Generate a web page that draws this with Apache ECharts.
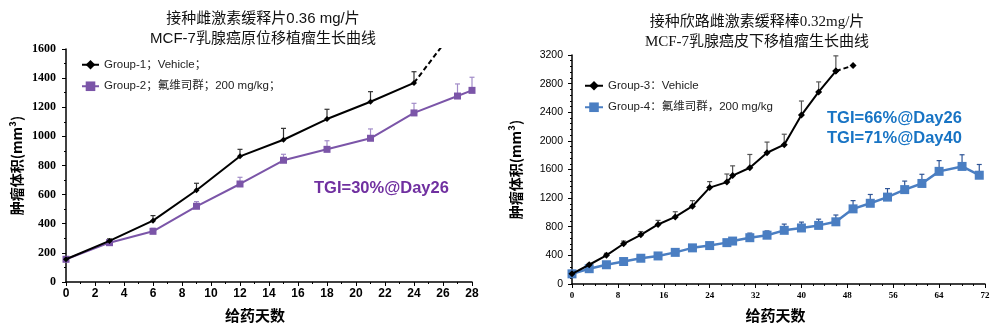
<!DOCTYPE html>
<html>
<head>
<meta charset="utf-8">
<script src="https://cdn.jsdelivr.net/npm/echarts@6/dist/echarts.min.js"></script>
<style>
  html, body { margin: 0; padding: 0; background: #fff; }
  #chart { width: 1000px; height: 328px; }
</style>
</head>
<body>
<div id="chart"></div>
<script>
// ---- Orthotopic model (left panel) ----
const leftTitle = ['接种雌激素缓释片0.36 mg/片', 'MCF-7乳腺癌原位移植瘤生长曲线'];
const leftXTicks = { min: 0, max: 28, interval: 2 };
const leftYTicks = { min: 0, max: 1600, interval: 200 };
const g1Name = 'Group-1；Vehicle；';
const g1Days = [0, 3, 6, 9, 12, 15, 18, 21, 24];
const g1Vol  = [156, 282, 421, 630, 863, 977, 1119, 1238, 1367];
const g1Err  = [0, 14, 35, 48, 48, 78, 67, 69, 77];
const g1TailDays = [24, 27];
const g1TailVol  = [1367, 1760];
const g2Name = 'Group-2；氟维司群；200 mg/kg；';
const g2Days = [0, 3, 6, 9, 12, 15, 18, 21, 24, 27, 28];
const g2Vol  = [156, 270, 348, 520, 673, 836, 911, 987, 1161, 1277, 1316];
const g2Err  = [0, 10, 21, 32, 46, 41, 59, 64, 66, 83, 90];
const leftNote = 'TGI=30%@Day26';

// ---- Subcutaneous model (right panel) ----
const rightTitle = ['接种欣路雌激素缓释棒0.32mg/片', 'MCF-7乳腺癌皮下移植瘤生长曲线'];
const rightXTicks = { min: 0, max: 72, interval: 8 };
const rightYTicks = { min: 0, max: 3200, interval: 400 };
const g3Name = 'Group-3：Vehicle';
const g3Days = [0, 3, 6, 9, 12, 15, 18, 21, 24, 27, 28, 31, 34, 37, 40, 43, 46];
const g3Vol  = [142, 269, 401, 562, 687, 832, 937, 1087, 1347, 1424, 1515, 1624, 1834, 1947, 2361, 2684, 2975];
const g3Err  = [0, 18, 28, 38, 46, 57, 73, 78, 84, 113, 136, 186, 149, 146, 196, 140, 213];
const g3TailDays = [46, 49];
const g3TailVol  = [2975, 3052];
const g4Name = 'Group-4：氟维司群，200 mg/kg';
const g4Days = [0, 3, 6, 9, 12, 15, 18, 21, 24, 27, 28, 31, 34, 37, 40, 43, 46, 49, 52, 55, 58, 61, 64, 68, 71];
const g4Vol  = [142, 214, 269, 314, 360, 392, 442, 505, 537, 578, 600, 647, 682, 750, 783, 819, 869, 1050, 1128, 1214, 1319, 1405, 1574, 1643, 1520];
const g4Err  = [0, 10, 14, 18, 22, 24, 28, 32, 34, 30, 40, 64, 60, 87, 82, 87, 95, 115, 123, 119, 119, 128, 150, 163, 150];
const rightNotes = ['TGI=66%@Day26', 'TGI=71%@Day40'];

const yName = '肿瘤体积(mm³)';
const xName = '给药天数';

const pairs = (xs, ys) => xs.map((x, i) => [x, ys[i]]);
const triples = (xs, ys, es) => xs.map((x, i) => [x, ys[i], es[i]]).filter(d => d[2] > 0);
const plain = (v) => String(v);

function errorBars(idx, data, color, cap) {
  return {
    type: 'custom',
    xAxisIndex: idx, yAxisIndex: idx,
    data: data,
    z: 1,
    silent: true,
    encode: { x: 0, y: 1 },
    renderItem(params, api) {
      const x = api.value(0), y = api.value(1), e = api.value(2);
      const p0 = api.coord([x, y]);
      const p1 = api.coord([x, y + e]);
      const st = { stroke: color, lineWidth: 1.2 };
      return {
        type: 'group',
        children: [
          { type: 'line', shape: { x1: p0[0], y1: p0[1], x2: p1[0], y2: p1[1] }, style: st },
          { type: 'line', shape: { x1: p1[0] - cap, y1: p1[1], x2: p1[0] + cap, y2: p1[1] }, style: st }
        ]
      };
    }
  };
}

const axisLine = { show: true, lineStyle: { color: '#000', width: 1.5 } };
const titleFont = (family) => ({ fontSize: 15, fontWeight: 'normal', color: '#111', fontFamily: family, lineHeight: 20 });

const chart = echarts.init(document.getElementById('chart'), null, { renderer: 'canvas' });
chart.setOption({
  animation: false,
  backgroundColor: '#fff',
  title: [
    { text: leftTitle.join('\n'), left: 258, top: 4, textAlign: 'center', textStyle: titleFont('"Liberation Sans", "Noto Sans CJK SC", sans-serif') },
    { text: rightTitle.join('\n'), left: 752, top: 7, textAlign: 'center', textStyle: titleFont('"Liberation Serif", "Noto Sans CJK SC", serif') }
  ],
  grid: [
    { left: 66, top: 49, width: 406, height: 233 },
    { left: 572, top: 55, width: 413, height: 235 }
  ],
  legend: [
    {
      data: [g1Name, g2Name], orient: 'vertical', left: 76, top: 54,
      itemWidth: 17, itemHeight: 12, itemGap: 10,
      textStyle: { fontSize: 11.5, color: '#222', fontFamily: '"Liberation Sans", "Noto Sans CJK SC", sans-serif' }
    },
    {
      data: [g3Name, g4Name], orient: 'vertical', left: 579, top: 75,
      itemWidth: 18, itemHeight: 12, itemGap: 10,
      textStyle: { fontSize: 11.5, color: '#222', fontFamily: '"Liberation Sans", "Noto Sans CJK SC", sans-serif' }
    }
  ],
  xAxis: [
    {
      gridIndex: 0, type: 'value', ...leftXTicks,
      axisLine, axisTick: { show: true, length: 4, lineStyle: { color: '#000' } },
      minorTick: { show: true, splitNumber: 2, length: 2, lineStyle: { color: '#000' } },
      splitLine: { show: false },
      axisLabel: { fontSize: 12, fontWeight: 'bold', color: '#000', margin: 6, formatter: plain, fontFamily: '"Liberation Sans", sans-serif' },
      name: xName, nameLocation: 'middle', nameGap: 26,
      nameTextStyle: { fontSize: 15, fontWeight: 'bold', color: '#000', padding: [0, 28, 0, 0], fontFamily: '"Noto Sans CJK SC", sans-serif' }
    },
    {
      gridIndex: 1, type: 'value', ...rightXTicks,
      axisLine, axisTick: { show: true, length: 4, lineStyle: { color: '#000' } },
      minorTick: { show: true, splitNumber: 4, length: 2, lineStyle: { color: '#000' } },
      splitLine: { show: false },
      axisLabel: { fontSize: 9, fontWeight: 'bold', color: '#000', margin: 7, formatter: plain, fontFamily: '"Liberation Serif", serif' },
      name: xName, nameLocation: 'middle', nameGap: 24,
      nameTextStyle: { fontSize: 15, fontWeight: 'bold', color: '#000', padding: [0, 6, 0, 0], fontFamily: '"Noto Sans CJK SC", sans-serif' }
    }
  ],
  yAxis: [
    {
      gridIndex: 0, type: 'value', ...leftYTicks,
      axisLine, axisTick: { show: true, length: 4, lineStyle: { color: '#000' } },
      minorTick: { show: true, splitNumber: 2, length: 2, lineStyle: { color: '#000' } },
      splitLine: { show: false },
      axisLabel: { fontSize: 12, fontWeight: 'bold', color: '#000', margin: 10, formatter: plain, fontFamily: '"Liberation Serif", serif' },
      name: yName, nameLocation: 'middle', nameGap: 42, nameRotate: 90,
      nameTextStyle: { fontSize: 14, fontWeight: 'bold', color: '#000', fontFamily: '"Noto Sans CJK SC", sans-serif' }
    },
    {
      gridIndex: 1, type: 'value', ...rightYTicks,
      axisLine, axisTick: { show: true, length: 4, lineStyle: { color: '#000' } },
      minorTick: { show: true, splitNumber: 5, length: 2, lineStyle: { color: '#000' } },
      splitLine: { show: false },
      axisLabel: { fontSize: 10.5, color: '#000', margin: 9, formatter: plain, fontFamily: '"Liberation Sans", sans-serif' },
      name: yName, nameLocation: 'middle', nameGap: 49, nameRotate: 90,
      nameTextStyle: { fontSize: 14, fontWeight: 'bold', color: '#000', fontFamily: '"Noto Sans CJK SC", sans-serif' }
    }
  ],
  graphic: [
    { type: 'text', left: 314, top: 180, style: { text: leftNote, fontSize: 16.5, fontWeight: 'bold', fill: '#7030A0', fontFamily: '"Liberation Sans", sans-serif' } },
    { type: 'text', left: 827, top: 108, style: { text: rightNotes.join('\n'), fontSize: 16.5, lineHeight: 20, fontWeight: 'bold', fill: '#1874C4', fontFamily: '"Liberation Sans", sans-serif' } }
  ],
  series: [
    errorBars(0, triples(g1Days, g1Vol, g1Err), '#333333', 2.5),
    errorBars(0, triples(g2Days, g2Vol, g2Err), '#A28CC8', 2.5),
    {
      name: g1Name, type: 'line', xAxisIndex: 0, yAxisIndex: 0, z: 3,
      data: pairs(g1Days, g1Vol), symbol: 'diamond', symbolSize: 6,
      lineStyle: { color: '#000', width: 2 }, itemStyle: { color: '#000' }
    },
    {
      name: 'g1-tail', type: 'line', xAxisIndex: 0, yAxisIndex: 0, z: 3, clip: true,
      data: pairs(g1TailDays, g1TailVol), symbol: 'none',
      lineStyle: { color: '#000', width: 2, type: [5, 3] }
    },
    {
      name: g2Name, type: 'line', xAxisIndex: 0, yAxisIndex: 0, z: 2,
      data: pairs(g2Days, g2Vol), symbol: 'rect', symbolSize: 7,
      lineStyle: { color: '#7B55A8', width: 2 }, itemStyle: { color: '#7B55A8' }
    },
    errorBars(1, triples(g3Days, g3Vol, g3Err), '#555555', 2.5),
    errorBars(1, triples(g4Days, g4Vol, g4Err), '#2F5597', 2.5),
    {
      name: g3Name, type: 'line', xAxisIndex: 1, yAxisIndex: 1, z: 3,
      data: pairs(g3Days, g3Vol), symbol: 'diamond', symbolSize: 7,
      lineStyle: { color: '#000', width: 2 }, itemStyle: { color: '#000' }
    },
    {
      name: 'g3-tail', type: 'line', xAxisIndex: 1, yAxisIndex: 1, z: 3,
      data: pairs(g3TailDays, g3TailVol), symbol: 'diamond', symbolSize: 7,
      lineStyle: { color: '#000', width: 2, type: [5, 3] }, itemStyle: { color: '#000' }
    },
    {
      name: g4Name, type: 'line', xAxisIndex: 1, yAxisIndex: 1, z: 2,
      data: pairs(g4Days, g4Vol), symbol: 'rect', symbolSize: 9,
      lineStyle: { color: '#4A7EC2', width: 2.5 }, itemStyle: { color: '#4A7EC2' }
    }
  ]
});
</script>
</body>
</html>
